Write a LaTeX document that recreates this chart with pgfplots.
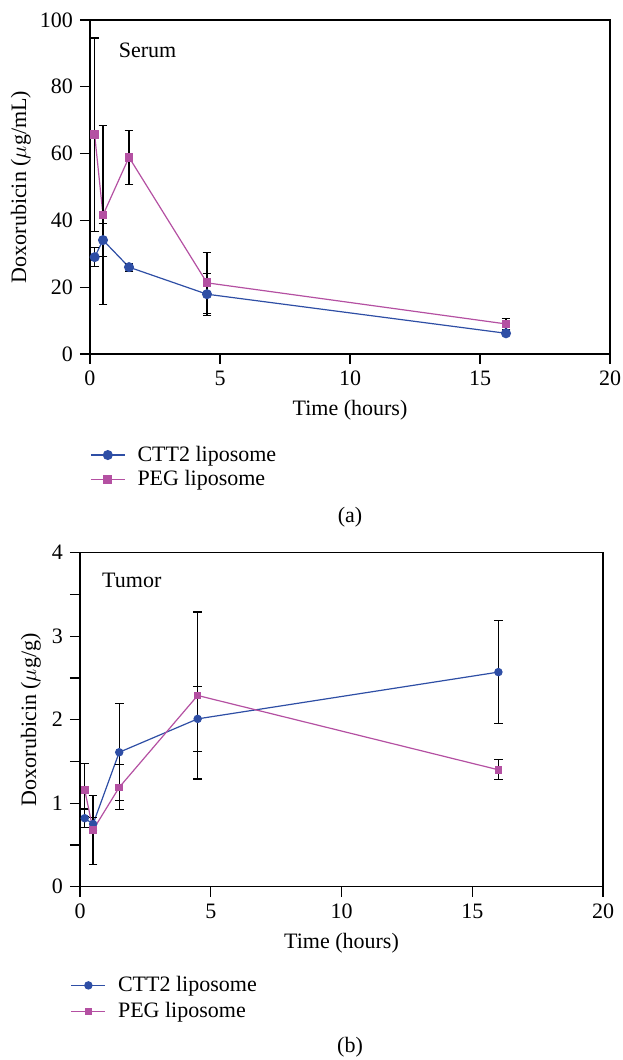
\documentclass[border=0pt]{standalone}
\usepackage{fontspec}
\setmainfont{Liberation Serif}
\usepackage{pgfplots}
\pgfplotsset{compat=1.18}
\definecolor{cblue}{RGB}{46,78,165}
\definecolor{cpeg}{RGB}{180,80,162}

\pgfplotsset{
  mystyle/.style={
    scale only axis,
    xmin=0, xmax=20, xtick={0,5,...,20},
    tick align=outside, major tick length=5pt, minor tick length=5pt,
    xtick pos=lower, ytick pos=lower,
    axis line style={black, line width=0.6pt},
    tick style={black, line width=0.6pt},
    /pgf/number format/assume math mode=true,
    ticklabel style={font=\fontsize{11}{13}\selectfont},
    label style={font=\fontsize{11}{13}\selectfont},
    xlabel={Time (hours)},
    xlabel style={at={(axis description cs:0.5,-0.168)}, anchor=center},
    legend cell align=left,
    legend style={draw=none, fill=none, anchor=north west,
      font=\fontsize{11}{13}\selectfont, row sep=-1pt,
      /tikz/every odd column/.append style={column sep=4pt}},
  },
  errstyle/.style={
    error bars/.cd, y dir=both, y explicit,
    error bar style={black, line width=0.6pt},
    error mark options={rotate=90, mark size=2.2pt, black, line width=0.6pt},
  },
}

\begin{document}
\begin{tikzpicture}
\useasboundingbox (0,0) rectangle (311pt,530pt);

% ---------- (a) Serum ----------
\begin{axis}[mystyle,
  at={(45pt,353pt)}, anchor=south west,
  width=260pt, height=167pt,
  ymin=0, ymax=100, ytick={0,20,...,100},
  ylabel={Doxorubicin ($\mu$g/mL)},
  ylabel style={at={(axis description cs:-0.133,0.5)}, anchor=center},
  legend style={at={(axis description cs:-0.012,-0.25)}},
]
\addplot+[color=cblue, line width=0.6pt, mark=*, mark size=2.2pt,
  mark options={fill=cblue, draw=cblue, solid}, errstyle]
  table[x=t, y=v, y error=e] {
t v e
0.18 29.0 2.8
0.5 34.1 5.0
1.5 26.0 1.2
4.5 17.9 6.3
16 6.2 0.5
};
\addlegendentry{CTT2 liposome}
\addplot+[color=cpeg, line width=0.6pt, mark=square*, mark size=1.9pt,
  mark options={fill=cpeg, draw=cpeg, solid}, errstyle]
  table[x=t, y=v, y error=e] {
t v e
0.18 65.6 29.0
0.5 41.6 26.8
1.5 58.9 8.1
4.5 21.3 9.1
16 9.0 1.7
};
\addlegendentry{PEG liposome}
\node[anchor=west, font=\fontsize{11}{13}\selectfont] at (axis description cs:0.042,0.91) {Serum};
\end{axis}

% ---------- (b) Tumor ----------
\begin{axis}[mystyle,
  at={(40pt,86.65pt)}, anchor=south west,
  width=261.5pt, height=167pt,
  ymin=0, ymax=4, ytick={0,1,...,4}, minor ytick={0.5,1.5,2.5,3.5},
  ylabel={Doxorubicin ($\mu$g/g)},
  ylabel style={at={(axis description cs:-0.094,0.5)}, anchor=center},
  legend style={at={(axis description cs:-0.03,-0.243)}, row sep=0pt},
]
\addplot+[color=cblue, line width=0.6pt, mark=*, mark size=1.8pt,
  mark options={fill=cblue, draw=cblue, solid}, errstyle]
  table[x=t, y=v, y error=e] {
t v e
0.18 0.82 0.11
0.5 0.75 0.08
1.5 1.61 0.58
4.5 2.01 0.39
16 2.57 0.62
};
\addlegendentry{CTT2 liposome}
\addplot+[color=cpeg, line width=0.6pt, mark=square*, mark size=1.6pt,
  mark options={fill=cpeg, draw=cpeg, solid}, errstyle]
  table[x=t, y=v, y error=e] {
t v e
0.18 1.16 0.32
0.5 0.68 0.41
1.5 1.19 0.27
4.5 2.29 1.00
16 1.40 0.12
};
\addlegendentry{PEG liposome}
\node[anchor=west, font=\fontsize{11}{13}\selectfont] at (axis description cs:0.029,0.916) {Tumor};
\end{axis}

\node[font=\fontsize{11}{13}\selectfont] at (175pt,271.5pt) {(a)};
\node[font=\fontsize{11}{13}\selectfont] at (175pt,6.5pt) {(b)};
\end{tikzpicture}
\end{document}
